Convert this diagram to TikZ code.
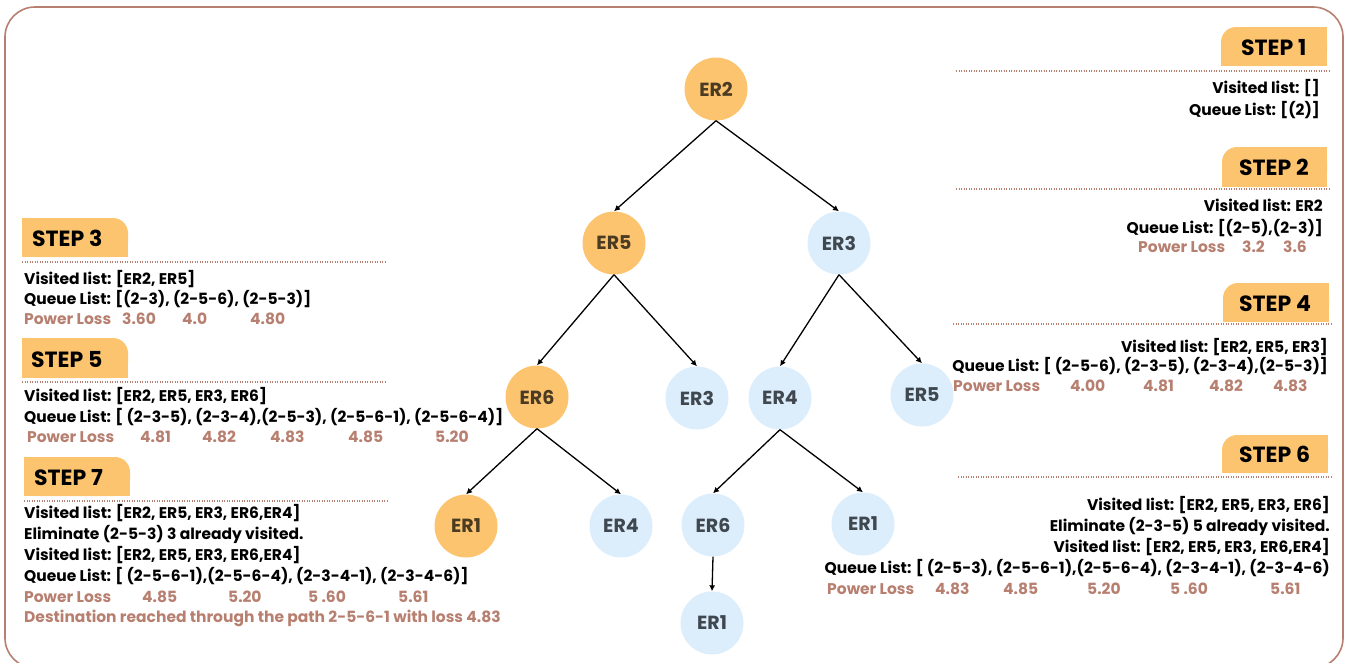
\documentclass[tikz,border=0pt]{standalone}
\usepackage{fontspec}
\setmainfont{Poppins}
\usetikzlibrary{arrows.meta}
\definecolor{tabfill}{HTML}{FCC46F}
\definecolor{bluefill}{HTML}{DCEDFC}
\definecolor{rose}{HTML}{B77F70}
\definecolor{orangetext}{HTML}{4A3B22}
\definecolor{bluetext}{HTML}{3F474F}
\begin{document}
\begin{tikzpicture}[x=1pt,y=-1pt,
  ernode/.style={circle, minimum size=63pt, inner sep=0pt, font=\fontsize{19}{19}\selectfont\bfseries},
  donenode/.style={ernode, fill=tabfill, text=orangetext},
  opennode/.style={ernode, fill=bluefill, text=bluetext},
  edge/.style={-{Latex[length=6pt,width=6pt]}, line width=1.3pt},
  steplabel/.style={font=\fontsize{22}{22}\selectfont\bfseries, inner sep=0pt, anchor=base west},
  txtline/.style={font=\fontsize{15.5}{15.5}\selectfont\bfseries, inner sep=0pt},
  txtL/.style={txtline, anchor=base west},
  txtR/.style={txtline, anchor=base east},
  loss/.style={txtL, text=rose},
  dotrule/.style={rose, line width=1.2pt, dash pattern=on 1.2pt off 1.3pt},
  tabbg/.style={fill=tabfill},
]
\useasboundingbox (0,0) rectangle (1352,662);

% outer frame
\draw[rose, line width=1.6pt, rounded corners=30pt] (5,7) rectangle (1343,668);

% ---------- tabs: left ones round the top-right corner ----------
\foreach \xa/\ya/\xb/\yb in {22/218/128/257, 22/338/128/378, 24/457/130/496}{
  \fill[tabbg, rounded corners=15pt] (\xa,\ya) rectangle (\xb,\yb);
  \fill[tabbg] (\xa,\ya) rectangle (\xb-20,\yb);
  \fill[tabbg] (\xa,\ya+20) rectangle (\xb,\yb);
}
% right ones round the top-left corner
\foreach \xa/\ya/\xb/\yb in {1221/27/1327/66, 1222/147/1327/187, 1223/283/1329/322, 1222/435/1328/473}{
  \fill[tabbg, rounded corners=15pt] (\xa,\ya) rectangle (\xb,\yb);
  \fill[tabbg] (\xa+20,\ya) rectangle (\xb,\yb);
  \fill[tabbg] (\xa,\ya+20) rectangle (\xb,\yb);
}

% dotted separators
\draw[dotrule] (956,71) -- (1330,71);
\draw[dotrule] (956,189) -- (1330,189);
\draw[dotrule] (953,324) -- (1331,324);
\draw[dotrule] (958,477) -- (1332,477);
\draw[dotrule] (22,262) -- (385,262);
\draw[dotrule] (22,382) -- (385,382);
\draw[dotrule] (24,501) -- (387,501);

% step labels
\node[steplabel] (t1) at (1241,55) {STEP 1};
\node[steplabel] (t2) at (1239,175) {STEP 2};
\node[steplabel] (t3) at (32,246) {STEP 3};
\node[steplabel] (t4) at (1239,311) {STEP 4};
\node[steplabel] (t5) at (31,367) {STEP 5};
\node[steplabel] (t6) at (1239,462) {STEP 6};
\node[steplabel] (t7) at (34,485) {STEP 7};

% ---------- step 1 ----------
\node[txtR] (s1v) at (1320,93) {Visited list: []};
\node[txtR] (s1q) at (1320,115) {Queue List: [(2)]};

% ---------- step 2 ----------
\node[txtR] (s2v) at (1323,211) {Visited list: ER2};
\node[txtR] (s2q) at (1323,233) {Queue List: [(2-5),(2-3)]};
\node[loss] (s2p) at (1138,252) {Power Loss};
\node[loss] (s2a) at (1242,252) {3.2};
\node[loss] (s2b) at (1283,252) {3.6};

% ---------- step 3 ----------
\node[txtL] (s3v) at (24,284) {Visited list: [ER2, ER5]};
\node[txtL] (s3q) at (24,304) {Queue List: [(2-3), (2-5-6), (2-5-3)]};
\node[loss] (s3p) at (24,324) {Power Loss};
\node[loss] (s3a) at (122,324) {3.60};
\node[loss] (s3b) at (182,324) {4.0};
\node[loss] (s3c) at (250,324) {4.80};

% ---------- step 4 ----------
\node[txtR] (s4v) at (1328,352) {Visited list: [ER2, ER5, ER3]};
\node[txtR] (s4q) at (1328,371) {Queue List: [ (2-5-6), (2-3-5), (2-3-4),(2-5-3)]};
\node[loss] (s4p) at (953,391) {Power Loss};
\node[loss] (s4a) at (1070,391) {4.00};
\node[loss] (s4b) at (1143,391) {4.81};
\node[loss] (s4c) at (1209,391) {4.82};
\node[loss] (s4d) at (1273,391) {4.83};

% ---------- step 5 ----------
\node[txtL] (s5v) at (24,401) {Visited list: [ER2, ER5, ER3, ER6]};
\node[txtL] (s5q) at (24,422) {Queue List: [ (2-3-5), (2-3-4),(2-5-3), (2-5-6-1), (2-5-6-4)]};
\node[loss] (s5p) at (27,442) {Power Loss};
\node[loss] (s5a) at (140,442) {4.81};
\node[loss] (s5b) at (202,442) {4.82};
\node[loss] (s5c) at (270,442) {4.83};
\node[loss] (s5d) at (348,442) {4.85};
\node[loss] (s5e) at (435,442) {5.20};

% ---------- step 6 ----------
\node[txtR] (s6v) at (1330,510) {Visited list: [ER2, ER5, ER3, ER6]};
\node[txtR] (s6e) at (1330,531) {Eliminate (2-3-5) 5 already visited.};
\node[txtR] (s6w) at (1330,552) {Visited list: [ER2, ER5, ER3, ER6,ER4]};
\node[txtR] (s6q) at (1330,573) {Queue List: [ (2-5-3), (2-5-6-1),(2-5-6-4), (2-3-4-1), (2-3-4-6)};
\node[loss] (s6p) at (827,594) {Power Loss};
\node[loss] (s6a) at (935,594) {4.83};
\node[loss] (s6b) at (1003,594) {4.85};
\node[loss] (s6c) at (1087,594) {5.20};
\node[loss] (s6d) at (1170,594) {5 .60};
\node[loss] (s6e2) at (1270,594) {5.61};

% ---------- step 7 ----------
\node[txtL] (s7v) at (24,518) {Visited list: [ER2, ER5, ER3, ER6,ER4]};
\node[txtL] (s7e) at (24,539) {Eliminate (2-5-3) 3 already visited.};
\node[txtL] (s7w) at (24,560) {Visited list: [ER2, ER5, ER3, ER6,ER4]};
\node[txtL] (s7q) at (24,581) {Queue List: [ (2-5-6-1),(2-5-6-4), (2-3-4-1), (2-3-4-6)]};
\node[loss] (s7p) at (24,602) {Power Loss};
\node[loss] (s7a) at (142,602) {4.85};
\node[loss] (s7b) at (228,602) {5.20};
\node[loss] (s7c) at (308,602) {5 .60};
\node[loss] (s7d) at (398,602) {5.61};
\node[loss] (s7f) at (24,622) {Destination reached through the path 2-5-6-1 with loss 4.83};

% ---------- search tree ----------
\node[donenode] (n2)   at (716,89)  {ER2};
\node[donenode] (n5)   at (614,243) {ER5};
\node[opennode] (n3)   at (839,243) {ER3};
\node[donenode] (n6)   at (537,397) {ER6};
\node[opennode] (n3b)  at (697,398) {ER3};
\node[opennode] (n4)   at (780,398) {ER4};
\node[opennode] (n5b)  at (922,395) {ER5};
\node[donenode] (n1)   at (466,526) {ER1};
\node[opennode] (n4b)  at (621,526) {ER4};
\node[opennode] (n6b)  at (713,525) {ER6};
\node[opennode] (n1b)  at (863,524) {ER1};
\node[opennode] (n1c)  at (712,623) {ER1};

\draw[edge] (n2.south) -- (n5.north);
\draw[edge] (n2.south) -- (n3.north);
\draw[edge] (n5.south) -- (n6.north);
\draw[edge] (n5.south) -- (n3b.north);
\draw[edge] (n3.south) -- (n4.north);
\draw[edge] (n3.south) -- (n5b.north);
\draw[edge] (n6.south) -- (n1.north);
\draw[edge] (n6.south) -- (n4b.north);
\draw[edge] (n4.south) -- (n6b.north);
\draw[edge] (n4.south) -- (n1b.north);
\draw[edge] (n6b.south) -- (n1c.north);
\end{tikzpicture}
\end{document}
